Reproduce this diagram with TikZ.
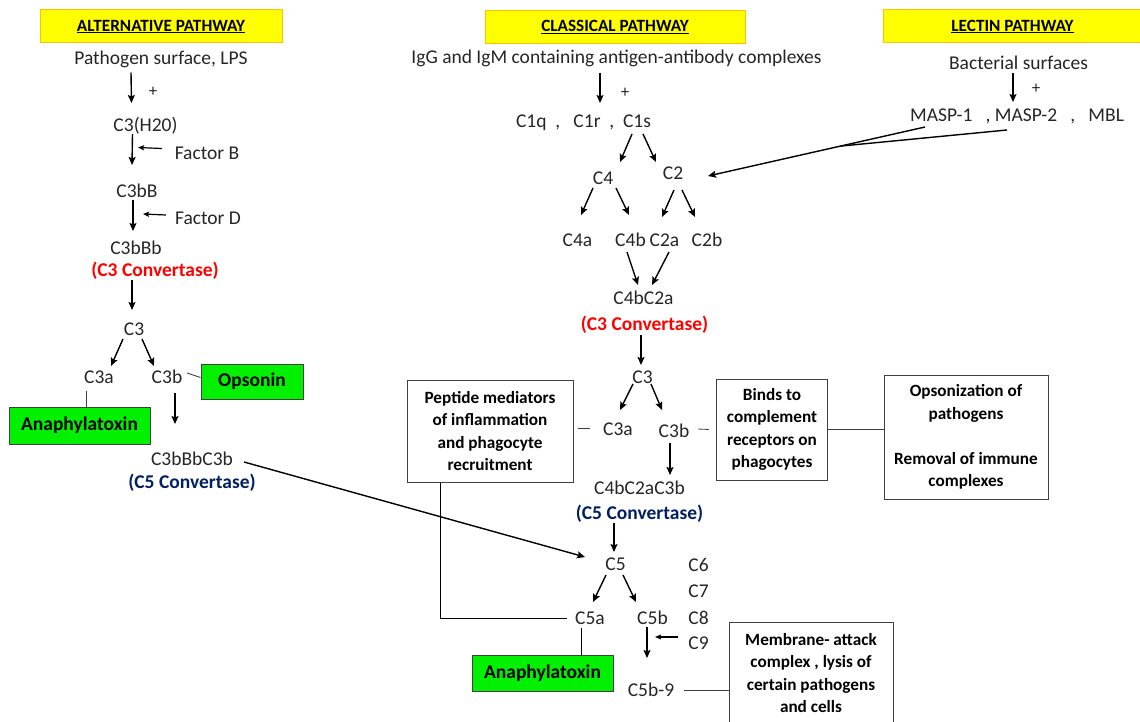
\documentclass[tikz,border=0pt]{standalone}
\usepackage{fontspec}
\setmainfont{Carlito}
\usetikzlibrary{arrows.meta}
\definecolor{ttlfill}{HTML}{FFFF00}
\definecolor{ttledge}{HTML}{FFC000}
\definecolor{tagfill}{HTML}{00F000}
\definecolor{cvred}{HTML}{FF0000}
\definecolor{cvblue}{HTML}{002060}
\definecolor{ink}{HTML}{262626}
\definecolor{edge}{HTML}{404040}
\tikzset{
  txt/.style={font=\fontsize{19.5}{22}\selectfont, text=ink, inner sep=0pt, text height=13pt, text depth=0pt},
  pls/.style={font=\fontsize{17}{19}\selectfont, text=ink, inner sep=0pt},
  cnv/.style={txt, font=\fontsize{19.5}{22}\selectfont\bfseries},
  ttl/.style={draw=ttledge, fill=ttlfill, line width=1pt, minimum height=33pt, inner sep=0pt, font=\fontsize{17.2}{19}\selectfont\bfseries},
  tag/.style={draw=edge, fill=tagfill, line width=1pt, inner sep=0pt, font=\fontsize{19.5}{22}\selectfont\bfseries},
  note/.style={draw=edge, line width=1pt, inner sep=0pt, align=center, font=\fontsize{17.2}{22.4}\selectfont\bfseries},
  arr/.style={-{Stealth[length=8pt,width=7pt,inset=1.5pt]}, line width=1.4pt},
  tick/.style={-{Stealth[length=6pt,width=5pt,inset=1pt]}, line width=1.2pt},
  lnk/.style={line width=0.8pt, draw=edge}
}
\begin{document}
\begin{tikzpicture}[x=1pt,y=-1pt]
  \useasboundingbox (0,0) rectangle (1140,722);
  \path[fill=white] (0,0) rectangle (1140,722);
  \clip (0,0) rectangle (1140,722);

  \node[ttl, minimum width=242pt] (altH) at (161,26.5) {\underline{ALTERNATIVE PATHWAY}};
  \node[txt] (pathA) at (161,58.5) {Pathogen surface, LPS};
  \node[pls] (plusA) at (153,92) {+};
  \node[txt] (c3w) at (145.5,125) {C3(H20)};
  \node[txt] (facB) at (207,153.5) {Factor B};
  \node[txt] (c3bB) at (137,191) {C3bB};
  \node[txt] (facD) at (208,218.5) {Factor D};
  \node[txt] (c3bBb) at (136,247.5) {C3bBb};
  \node[cnv, text=cvred] (c3cvA) at (155,270) {(C3 Convertase)};
  \node[txt] (c3A) at (134,329) {C3};
  \node[txt] (c3aA) at (99,376.5) {C3a};
  \node[txt] (c3bA) at (167,376.5) {C3b};
  \node[tag, minimum width=102pt, minimum height=35pt] (opson) at (252,381.5) {Opsonin};
  \node[tag, minimum width=141pt, minimum height=37pt] (anaA) at (79.5,425.5) {Anaphylatoxin};
  \node[txt] (c3bBbC3b) at (192,458.5) {C3bBbC3b};
  \node[cnv, text=cvblue] (c5cvA) at (192,482) {(C5 Convertase)};

  \node[ttl, minimum width=260pt] (clsH) at (615,27) {\underline{CLASSICAL PATHWAY}};
  \node[txt] (igg) at (616.5,57) {IgG and IgM containing antigen-antibody complexes};
  \node[pls] (plusC) at (625,93) {+};
  \node[txt] (c1) at (583.5,121.5) {C1q~~,~~~C1r~~,~~C1s};
  \node[txt] (c4) at (603,178.5) {C4};
  \node[txt] (c2) at (673,173.5) {C2};
  \node[txt] (c4a) at (577.5,240) {C4a};
  \node[txt] (c4b) at (630.5,240) {C4b};
  \node[txt] (c2a) at (664.5,240) {C2a};
  \node[txt] (c2b) at (707,240) {C2b};
  \node[txt] (c4bC2a) at (643.5,297.5) {C4bC2a};
  \node[cnv, text=cvred] (c3cvC) at (644.5,324) {(C3 Convertase)};
  \node[txt] (c3C) at (642.5,377) {C3};
  \node[txt] (c3aC) at (618,428.5) {C3a};
  \node[txt] (c3bC) at (674,431) {C3b};
  \node[note, minimum width=166pt, minimum height=102pt] (pept) at (490,431)
    {Peptide mediators\\of inflammation\\and phagocyte\\recruitment};
  \node[note, minimum width=111pt, minimum height=101pt] (binds) at (772,429.5)
    {Binds to\\complement\\receptors on\\phagocytes};
  \node[note, minimum width=164pt, minimum height=124pt] (opsz) at (966,437)
    {Opsonization of\\pathogens\\[22.4pt]Removal of immune\\complexes};
  \node[txt] (c4bC2aC3b) at (639.5,487.5) {C4bC2aC3b};
  \node[cnv, text=cvblue] (c5cvC) at (639.5,513) {(C5 Convertase)};
  \node[txt] (c5) at (615.5,564) {C5};
  \node[txt] (c5a) at (590,618) {C5a};
  \node[txt] (c5b) at (652.5,618) {C5b};
  \node[txt] (c6) at (698.5,565) {C6};
  \node[txt] (c7) at (698.5,590.5) {C7};
  \node[txt] (c8) at (698.5,618) {C8};
  \node[txt] (c9) at (698.5,643) {C9};
  \node[txt] (c5b9) at (651,690) {C5b-9};
  \node[note, minimum width=164pt, minimum height=102pt] (mac) at (811,673)
    {Membrane- attack\\complex , lysis of\\certain pathogens\\and cells};
  \node[tag, minimum width=141pt, minimum height=36pt] (anaC) at (542.5,673) {Anaphylatoxin};

  \node[ttl, minimum width=259pt] (lecH) at (1012.5,26.5) {\underline{LECTIN PATHWAY}};
  \node[txt] (bact) at (1018.5,63) {Bacterial surfaces};
  \node[pls] (plusL) at (1036,89) {+};
  \node[txt] (masp) at (1017,115) {MASP-1~~~,~MASP-2~~~,~~~MBL};

  \draw[arr] ([shift={(-30,14)}]pathA.center) -- ([shift={(-14,-22)}]c3w.center);
  \draw[arr] ([shift={(-13,9)}]c3w.center) -- ([shift={(-5,-26)}]c3bB.center);
  \draw[tick] ([shift={(-45,-5)}]facB.center) -- ([shift={(-69,-6)}]facB.center);
  \draw[arr] ([shift={(-4,9)}]c3bB.center) -- ([shift={(-3,-16.5)}]c3bBb.center);
  \draw[tick] ([shift={(-42,-3.5)}]facD.center) -- ([shift={(-65,-4.5)}]facD.center);
  \draw[arr] ([shift={(-23,10)}]c3cvA.center) -- ([shift={(-2,-19)}]c3A.center);
  \draw[arr] ([shift={(-11,10)}]c3A.center) -- ([shift={(12,-10.5)}]c3aA.center);
  \draw[arr] ([shift={(8,10)}]c3A.center) -- ([shift={(-13,-10.5)}]c3bA.center);
  \draw[lnk] ([shift={(20,-3.5)}]c3bA.center) -- ([shift={(0,-4)}]opson.west);
  \draw[lnk] ([shift={(-13,14.5)}]c3aA.center) -- ([xshift=6.5pt]anaA.north);
  \draw[arr] ([shift={(8,16.5)}]c3bA.center) -- ([shift={(-17,-34.5)}]c3bBbC3b.center);
  \draw[arr] ([shift={(52,3.5)}]c3bBbC3b.center) -- ([shift={(-30.5,-7)}]c5.center);

  \draw[arr] ([shift={(-16.5,16)}]igg.center) -- ([shift={(16.5,-18.5)}]c1.center);
  \draw[arr] ([shift={(48.5,12.5)}]c1.center) -- ([shift={(17,-16.5)}]c4.center);
  \draw[arr] ([shift={(59.5,12.5)}]c1.center) -- ([shift={(-17,-11.5)}]c2.center);
  \draw[arr] ([shift={(-10,9.5)}]c4.center) -- ([shift={(3.5,-25)}]c4a.center);
  \draw[arr] ([shift={(13,9.5)}]c4.center) -- ([shift={(-1.5,-25)}]c4b.center);
  \draw[arr] ([shift={(1,16.5)}]c2.center) -- ([shift={(-2.5,-23)}]c2a.center);
  \draw[arr] ([shift={(9,16.5)}]c2.center) -- ([shift={(-12,-23)}]c2b.center);
  \draw[arr] ([shift={(-3.5,12)}]c4b.center) -- ([shift={(-5.5,-12.5)}]c4bC2a.center);
  \draw[arr] ([shift={(4.5,12)}]c2a.center) -- ([shift={(8.5,-12.5)}]c4bC2a.center);
  \draw[arr] ([shift={(-3.5,11)}]c3cvC.center) -- ([shift={(-1.5,-12)}]c3C.center);
  \draw[arr] ([shift={(-9.5,7)}]c3C.center) -- ([shift={(2,-18.5)}]c3aC.center);
  \draw[arr] ([shift={(8.5,7)}]c3C.center) -- ([shift={(-12,-21)}]c3bC.center);
  \draw[lnk] ([shift={(4,-3)}]pept.east) -- ([shift={(-28,-0.5)}]c3aC.center);
  \draw[lnk] ([shift={(24,-2)}]c3bC.center) -- ([xshift=-7pt]binds.west);
  \draw[lnk] (binds.east) -- (binds.east -| opsz.west);
  \draw[arr] ([shift={(-4,12)}]c3bC.center) -- ([shift={(30.5,-12.5)}]c4bC2aC3b.center);
  \draw[arr] ([shift={(-25.5,10)}]c5cvC.center) -- ([shift={(-1.5,-12)}]c5.center);
  \draw[arr] ([shift={(-9.5,11)}]c5.center) -- ([shift={(3,-16)}]c5a.center);
  \draw[arr] ([shift={(7.5,11)}]c5.center) -- ([shift={(-16.5,-16)}]c5b.center);
  \draw[tick] ([shift={(-20.5,-6)}]c9.center) -- ([shift={(-43.5,-6)}]c9.center);
  \draw[arr] ([shift={(-5.5,9)}]c5b.center) -- ([shift={(-4,-32)}]c5b9.center);
  \draw[lnk] ([xshift=33pt]c5b9.center) -- (c5b9 -| mac.west);
  \draw[line width=0.8pt] ([xshift=-50pt]pept.south) |- ([xshift=-23pt]c5a.center);
  \draw[line width=0.8pt] ([shift={(-9,10)}]c5a.center) -- ([xshift=38.5pt]anaC.north);

  \draw[arr] ([shift={(-5.5,10)}]bact.center) -- ([shift={(-4,-13)}]masp.center);
  \draw[arr] ([shift={(-92,12)}]masp.center) -- coordinate[pos=0.39] (mjoin) ([shift={(35,2.5)}]c2.center);
  \draw[line width=1.4pt] ([shift={(-10,15)}]masp.center) -- (mjoin);
\end{tikzpicture}
\end{document}
